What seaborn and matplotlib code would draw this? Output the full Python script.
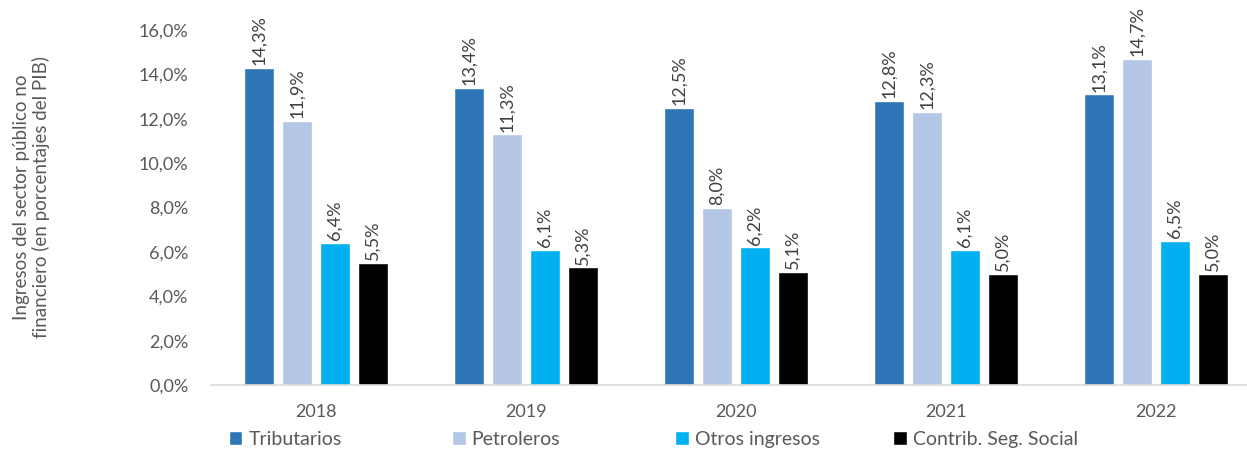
import pandas as pd
import matplotlib.pyplot as plt
import seaborn as sns

# Data
years = ["2018", "2019", "2020", "2021", "2022"]
tributarios = [14.3, 13.4, 12.5, 12.8, 13.1]
petroleros = [11.9, 11.3, 8.0, 12.3, 14.7]
otros_ingresos = [6.4, 6.1, 6.2, 6.1, 6.5]
contrib_seg_social = [5.5, 5.3, 5.1, 5.0, 5.0]

series_names = ["Tributarios", "Petroleros", "Otros ingresos", "Contrib. Seg. Social"]
series_colors = ["#2E75B6", "#B4C7E7", "#00B0F0", "#000000"]

df = pd.DataFrame({
    "Year": years,
    "Tributarios": tributarios,
    "Petroleros": petroleros,
    "Otros ingresos": otros_ingresos,
    "Contrib. Seg. Social": contrib_seg_social,
})
df_long = df.melt(id_vars="Year", var_name="Serie", value_name="Valor")

sns.set_style("white")
plt.rcParams["font.family"] = ["Lato", "DejaVu Sans"]
text_gray = "#595959"
fs = 13

fig = plt.figure(figsize=(12.47, 4.5), dpi=100)
ax = fig.add_axes([0.169, 0.1444, 0.842, 0.7889])

sns.barplot(data=df_long, x="Year", y="Valor", hue="Serie", hue_order=series_names,
            palette=series_colors, saturation=1, width=0.724, gap=0.21, ax=ax, legend=True)

# Data labels, rotated, just above each bar
for container in ax.containers:
    labels = [f"{v:.1f}%".replace(".", ",") for v in container.datavalues]
    ax.bar_label(container, labels=labels, rotation=90, padding=2,
                 fontsize=fs, color="#404040")

ax.set_ylim(0, 16)
ax.set_xlim(-0.5, 4.5)
ax.set_yticks(range(0, 17, 2))
ax.set_yticklabels([f"{v},0%" for v in range(0, 17, 2)])
ax.tick_params(axis="y", length=0, pad=16, labelsize=fs, labelcolor=text_gray)
ax.tick_params(axis="x", length=0, pad=14, labelsize=fs, labelcolor=text_gray)
ax.set_xlabel("")
ax.set_ylabel("Ingresos del sector público no\nfinanciero (en porcentajes del PIB)",
              fontsize=13.5, color=text_gray, linespacing=1.15)
ax.yaxis.set_label_coords(-0.153, 0.53)

for side in ["left", "right", "top"]:
    ax.spines[side].set_visible(False)
ax.spines["bottom"].set_color("#D9D9D9")
ax.spines["bottom"].set_linewidth(1.2)

# Legend: one entry per slot, evenly spaced like the reference
handles, labels = ax.get_legend_handles_labels()
ax.legend_.remove()
legend_x = [0.1835, 0.3625, 0.5415, 0.7165]
for h, lab, x in zip(handles, labels, legend_x):
    fig.legend([h], [lab], loc="center left", bbox_to_anchor=(x, 0.024),
               frameon=False, fontsize=14, labelcolor=text_gray, handlelength=0.7,
               handleheight=0.7, handletextpad=0.3, borderaxespad=0, borderpad=0)

fig.savefig("out.png", dpi=100)
